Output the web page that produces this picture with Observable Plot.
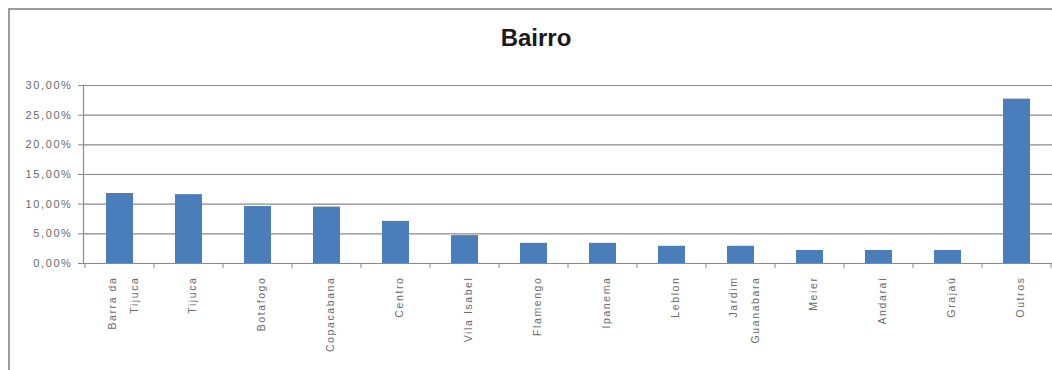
<!DOCTYPE html>
<html>
<head>
<meta charset="utf-8">
<script src="https://cdn.jsdelivr.net/npm/d3@7"></script>
<script src="https://cdn.jsdelivr.net/npm/@observablehq/plot@0.6"></script>
<style>
  html, body { margin: 0; padding: 0; background: #fff; }
  #wrap { position: relative; width: 1052px; height: 370px; overflow: hidden; background: #fff; }
  #frame { position: absolute; left: 8px; top: 8px; width: 1100px; height: 400px;
           border-left: 2px solid #9c9c9c; border-top: 2px solid #9c9c9c; }
  #title { position: absolute; left: 0; top: 26px; width: 1072px; text-align: center;
           font-family: "Liberation Sans", Arial, sans-serif; font-weight: bold; font-size: 24px;
           line-height: 1; color: #1a1a1a; }
  #chart { position: absolute; left: 0; top: 60px; }
  #chart svg text { letter-spacing: 1.6px; }
</style>
</head>
<body>
<div id="wrap">
  <div id="frame"></div>
  <div id="title">Bairro</div>
  <div id="chart"></div>
</div>
<script>
const categories = ["Barra da\nTijuca", "Tijuca", "Botafogo", "Copacabana", "Centro", "Vila Isabel",
  "Flamengo", "Ipanema", "Leblon", "Jardim\nGuanabara", "Meier", "Andaraí", "Grajaú", "Outros"];
const values = [11.8, 11.6, 9.6, 9.5, 7.1, 4.7, 3.4, 3.4, 2.9, 2.9, 2.2, 2.2, 2.2, 27.7];
const yTicks = [0, 5, 10, 15, 20, 25, 30];

const data = categories.map((c, i) => ({bairro: c, pct: values[i]}));
const fmt = d => d.toFixed(2).replace(".", ",") + "%";
const gray = "#8a8a8a";
const textColor = "#6a6a6a";

// tick marks at band boundaries below the x axis
function bandTicks(index, scales, vals, dims) {
  const x = scales.x, y = scales.y;
  const step = x(categories[1]) - x(categories[0]);
  const bw = typeof x.bandwidth === "function" ? x.bandwidth() : step * 0.39;
  const y0 = y(0);
  const g = d3.create("svg:g").attr("stroke", gray).attr("stroke-width", 1);
  const xs = categories.map(c => x(c) + bw / 2 - step / 2);
  xs.push(x(categories[categories.length - 1]) + bw / 2 + step / 2);
  for (const px of xs) {
    g.append("line").attr("x1", px).attr("x2", px).attr("y1", y0).attr("y2", y0 + 5);
  }
  return g.node();
}

const plot = Plot.plot({
  width: 1052,
  height: 310,
  marginTop: 25,
  marginBottom: 107,
  marginLeft: 83,
  marginRight: 0,
  style: {fontFamily: "'Liberation Sans', Arial, sans-serif", background: "transparent"},
  x: {domain: categories, paddingInner: 0.61, paddingOuter: 0.305, label: null},
  y: {domain: [0, 30], label: null},
  marks: [
    Plot.gridY(yTicks, {stroke: gray, strokeOpacity: 1, strokeWidth: 1.2}),
    Plot.barY(data, {x: "bairro", y: "pct", fill: "#4a7ebb"}),
    Plot.ruleY([0], {stroke: gray, strokeWidth: 1.2}),
    Plot.frame({anchor: "left", stroke: gray, strokeWidth: 1.2}),
    Plot.axisY({ticks: yTicks, tickFormat: fmt, tickSize: 5, tickPadding: 6, fontSize: 11,
                color: textColor, stroke: gray, label: null}),
    Plot.axisX({tickSize: 0, tickPadding: 13, tickRotate: -90, textAnchor: "end",
                fontSize: 10.5, lineHeight: 2.1, color: textColor, label: null}),
    bandTicks
  ]
});
document.getElementById("chart").appendChild(plot);
</script>
</body>
</html>
